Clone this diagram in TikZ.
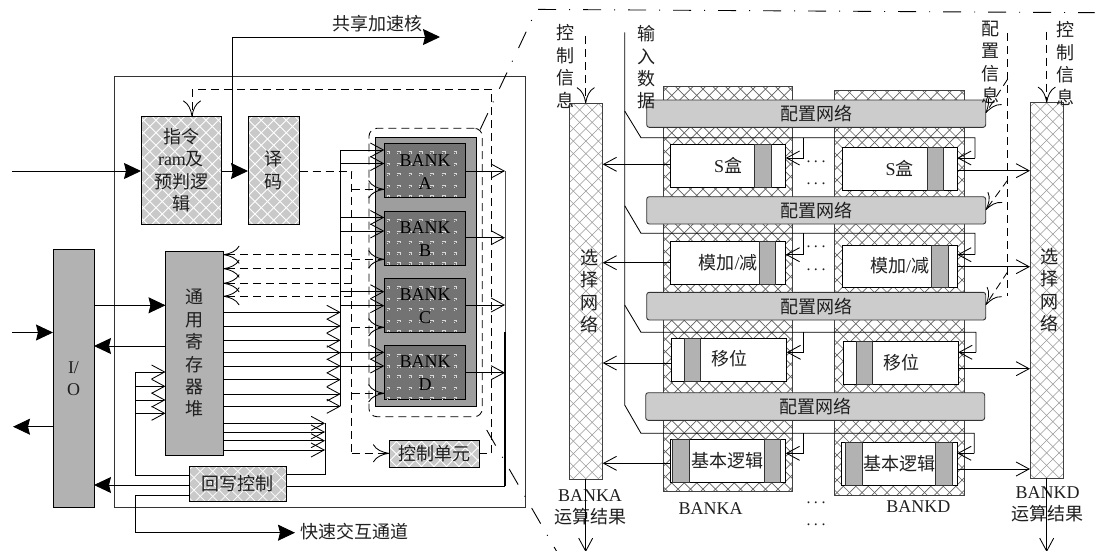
\documentclass[tikz,border=0pt]{standalone}
\usepackage{fontspec}
\setmainfont{Liberation Serif}
\newfontfamily\cjk{Noto Sans CJK SC}
\usetikzlibrary{arrows.meta}
\definecolor{boxgray}{gray}{0.70}
\definecolor{latgray}{gray}{0.79}
\definecolor{confgray}{gray}{0.80}
\definecolor{inkgray}{gray}{0.12}
\newcommand{\lattice}[2]{%
  \foreach \kk in {-43,...,43}{%
    \draw[#1,line width=#2] ([shift={(\kk*12.5-460,-460)}]path picture bounding box.center) -- +(920,920);
    \draw[#1,line width=#2] ([shift={(\kk*12.5-460,460)}]path picture bounding box.center) -- +(920,-920);
  }}
\tikzset{
  ln/.style={line width=0.85pt,draw=black},
  dsh/.style={line width=0.85pt,draw=black,dash pattern=on 8pt off 5pt},
  bigtip/.style={-{Stealth[length=17pt,width=16pt,inset=2pt]}},
  barb/.style={-{Straight Barb[length=13pt,width=14pt,line width=0.85pt]}},
  cbarb/.style={-{Computer Modern Rightarrow[length=16pt,width=18pt,line width=0.85pt]}},
  txt/.style={font=\fontsize{18}{22.4}\selectfont,align=center,text=inkgray},
  zh/.style={font=\fontsize{18}{22.4}\selectfont\cjk,align=center,text=inkgray},
  solidbox/.style={draw=black,line width=0.9pt,fill=boxgray},
  lightlat/.style={draw=black,line width=0.9pt,fill=latgray,path picture={\lattice{white}{0.8pt}}},
  barlat/.style={draw=black!75,line width=0.9pt,fill=white,path picture={\lattice{black!40}{0.6pt}}},
  collat/.style={draw=black!75,line width=0.9pt,fill=white,path picture={\lattice{black!62}{0.7pt}}},
  conf/.style={draw=black!80,line width=0.9pt,fill=confgray,rounded corners=2.5pt},
  unitbox/.style={draw=black,line width=0.9pt,fill=white},
  band/.style={draw=black!80,line width=0.9pt,fill=boxgray},
  bankbase/.style={draw=black,line width=0.9pt,fill=black!38},
  bankin/.style={draw=black,line width=0.9pt,fill=black!55},
  dashround/.style={dsh,rounded corners=8pt},
  dashdot/.style={line width=0.9pt,draw=black,dash pattern=on 18pt off 13pt on 1pt off 13pt},
}
\newcommand{\bx}[7]{%
  \pgfmathsetmacro\bcx{(#2+#4)/2}%
  \pgfmathsetmacro\bcy{(#3+#5)/2}%
  \pgfmathsetmacro\bww{#4-#2}%
  \pgfmathsetmacro\bhh{#5-#3}%
  \node[#6,inner sep=0pt,outer sep=0pt,minimum width=\bww pt,minimum height=\bhh pt,txt] (#1) at (\bcx,\bcy) {#7};}
\newcommand{\bankdots}[1]{%
  \foreach \dx in {388,398.3,410,420.7,431.7,443.3,455}{%
    \foreach \dy in {8.4,20,30,41.7,51.5}{%
      \pgfmathsetmacro\py{#1+\dy}%
      \draw[white!85!black,line width=0.6pt] (\dx-1.5,\py) -- (\dx+1.5,\py) -- (\dx+1.5,\py+2);
      \fill[white!85!black] (\dx-1.5,\py+1.5) rectangle +(1,1);
    }}}
\newcommand{\threedots}{.\kern3.5pt.\kern3.5pt.}
\begin{document}
\begin{tikzpicture}[x=1pt,y=-1pt]
\useasboundingbox (0,0) rectangle (1095,550);
% ---------- left block
\bx{outer}{114.5}{76}{525.5}{507.7}{draw=black!80,line width=1pt}{}
\bx{io}{53}{249.5}{94}{507.7}{solidbox}{I/\\O}
\bx{instr}{141}{116.5}{221}{224}{lightlat}{{\cjk 指令}\\ram{\cjk 及}\\{\cjk 预判逻}\\{\cjk 辑}}
\bx{decode}{248}{116.5}{299.5}{224}{lightlat}{\cjk 译\\\cjk 码}
\bx{reg}{165.5}{251.5}{223.5}{455.3}{solidbox}{\cjk 通\\\cjk 用\\\cjk 寄\\\cjk 存\\\cjk 器\\\cjk 堆}
\bx{wb}{189}{466.7}{286.5}{501}{lightlat}{\cjk 回写控制}
\bx{ctrl}{389}{440.7}{479}{467.3}{lightlat}{\cjk 控制单元}
\bx{group}{369}{128.3}{482.3}{416.7}{dashround}{}
\bx{bankbg}{375}{137.7}{476}{406}{bankbase}{}
\bx{bankA}{384.3}{143.3}{465.7}{197.3}{bankin}{}
\bx{bankB}{384.3}{211}{465.7}{265}{bankin}{}
\bx{bankC}{384.3}{278.3}{465.7}{332.3}{bankin}{}
\bx{bankD}{384.3}{345.7}{465.7}{399.3}{bankin}{}
\bankdots{143.3}\bankdots{211}\bankdots{278.3}\bankdots{345.7}
\node[txt,text=black,inner sep=0pt] (labA) at (425,172) {BANK\\A};
\node[txt,text=black,inner sep=0pt] (labB) at (425,239) {BANK\\B};
\node[txt,text=black,inner sep=0pt] (labC) at (425,306) {BANK\\C};
\node[txt,text=black,inner sep=0pt] (labD) at (425,373) {BANK\\D};
\node[zh,anchor=west,inner sep=0pt] (shared) at (332,23.5) {共享加速核};
\node[zh,anchor=west,inner sep=0pt] (fast) at (300,532) {快速交互通道};
% left free ends and buses
\coordinate (inA) at (12,171);
\coordinate (inB) at (12,332.5);
\coordinate (outB) at (13,426.7);
\coordinate (sharedEnd) at (440,37);
\coordinate (sharedCorner) at (232,37);
\coordinate (rb) at (340.7,150);
\coordinate (db) at (351.7,171);
\coordinate (cb) at (491.7,89.5);
\coordinate (itop) at (192,116.5);
\coordinate (ob) at (505,171);
\coordinate (lb) at (135.5,372);
\coordinate (wb2) at (325,423.3);
% main arrows
\draw[ln,bigtip] (inA) -- (instr.west |- inA);
\draw[ln,bigtip] (instr.east |- inA) -- (decode.west |- inA);
\draw[ln,bigtip] (sharedCorner |- inA) -- (sharedCorner) -- (sharedEnd);
\draw[ln,bigtip] (inB) -- (io.west |- inB);
\draw[ln,bigtip] (io.west |- outB) -- (outB);
\draw[ln,bigtip] (io.east |- 0,305.3) -- (reg.west |- 0,305.3);
\draw[ln,bigtip] (reg.west |- 0,346) -- (io.east |- 0,346);
\draw[ln,bigtip] (wb.west |- 0,485) -- (io.east |- 0,485);
\draw[ln,bigtip] (wb.west |- 0,495) -- (lb |- 0,495) -- (lb |- 0,532.7) -- (295,532.7);
% register side buses
\draw[ln] (lb) -- (lb |- 0,475.3) -- (wb.west |- 0,475.3);
\foreach \yy in {372,386.3,400,413.3}{\draw[ln,barb] (lb |- 0,\yy) -- (reg.west |- 0,\yy);}
\foreach \yy in {312.3,326,340.3,352.7,366,379.7,394,406.3}{\draw[ln,barb] (reg.east |- 0,\yy) -- (rb |- 0,\yy);}
\draw[ln] (rb) -- (rb |- 0,406.3);
\foreach \yy in {150,163.5}{\draw[ln,barb] (rb |- 0,\yy) -- (bankA.west |- 0,\yy);}
\foreach \yy in {217.5,231}{\draw[ln,barb] (rb |- 0,\yy) -- (bankB.west |- 0,\yy);}
\foreach \yy in {291.7,305.7}{\draw[ln,barb] (rb |- 0,\yy) -- (bankC.west |- 0,\yy);}
\foreach \yy in {352.3,366}{\draw[ln,barb] (rb |- 0,\yy) -- (bankD.west |- 0,\yy);}
\foreach \yy in {423.3,432,440.7,450}{\draw[ln,barb] (reg.east |- 0,\yy) -- (wb2 |- 0,\yy);}
\draw[ln] (wb2) -- (wb2 |- 0,474) -- (wb.east |- 0,474);
% dashed control
\draw[dsh] (decode.east |- db) -- (db) -- (db |- 0,453.3);
\draw[dsh,cbarb] (db |- 0,453.3) -- (ctrl.west |- 0,453.3);
\draw[dsh,cbarb] (db |- 0,189.3) -- (bankA.west |- 0,189.3);
\draw[dsh,cbarb] (db |- 0,259.3) -- (bankB.west |- 0,259.3);
\draw[dsh,cbarb] (db |- 0,327.3) -- (bankC.west |- 0,327.3);
\draw[dsh,cbarb] (db |- 0,393.3) -- (bankD.west |- 0,393.3);
\foreach \yy in {254.7,268.7,283.3,296.3}{\draw[dsh,cbarb] (db |- 0,\yy) -- (reg.east |- 0,\yy);}
\draw[dsh] (ctrl.east |- 0,453.3) -- (cb |- 0,453.3) -- (cb);
\draw[dsh,cbarb] (cb) -- (itop |- cb) -- (itop);
% bank outputs
\draw[line width=0.85pt,black!70] (ob) -- (ob |- 0,332);
\draw[line width=1.2pt] (ob |- 0,332) -- (ob |- 0,486);
\draw[line width=1pt] (ob |- 0,486) -- (wb.east |- 0,486);
\draw[ln,barb] (bankA.east |- ob) -- (ob);
\draw[ln,barb] (bankB.east |- 0,237.7) -- (ob |- 0,237.7);
\draw[ln,barb] (bankC.east |- 0,305) -- (ob |- 0,305);
\draw[ln,barb] (bankD.east |- 0,372.7) -- (ob |- 0,372.7);
% zoom guide lines
\coordinate (zu1) at (531.7,20);
\coordinate (zu2) at (479,132);
\coordinate (zl1) at (486.7,430);
\coordinate (zl2) at (557,552);
\coordinate (zt1) at (538,9.4);
\coordinate (zt2) at (1095,12.7);
\draw[line width=0.9pt,dash pattern=on 1pt off 12pt on 18pt off 14pt] (zu1) -- (zu2);
\draw[dashdot] (zl1) -- (zl2);
\draw[dashdot] (zt1) -- (zt2);
% ---------- right block
\bx{colA}{663.3}{86.7}{792.7}{491.7}{collat}{}
\bx{colD}{834.7}{90}{964.3}{495}{collat}{}
\bx{barL}{569}{103.3}{602.7}{479}{barlat}{}
\bx{barR}{1030}{102.7}{1063.3}{478}{barlat}{}
\node[zh,inner sep=0pt] (barLt) at (589.3,291) {选\\择\\网\\络};
\node[zh,inner sep=0pt] (barRt) at (1049,290) {选\\择\\网\\络};
\bx{net1}{646.7}{100}{985.7}{127.3}{conf}{\cjk 配置网络}
\bx{net2}{646.7}{196.7}{985.7}{224}{conf}{\cjk 配置网络}
\bx{net3}{646.7}{292.3}{985.7}{320}{conf}{\cjk 配置网络}
\bx{net4}{645.7}{392.7}{984.7}{420.3}{conf}{\cjk 配置网络}
% units (column A)
\bx{sA}{670.3}{144}{785.7}{187.3}{unitbox}{}
\bx{sAb}{754.7}{144}{771}{187.3}{band}{}
\bx{mA}{670.3}{241.7}{785.7}{284.3}{unitbox}{}
\bx{mAb}{759.3}{241.7}{775.7}{284.3}{band}{}
\bx{yA}{671.3}{338.3}{786.7}{381.3}{unitbox}{}
\bx{yAb}{684.3}{338.3}{700.7}{381.3}{band}{}
\bx{jA}{670}{439}{785.7}{482}{unitbox}{}
\bx{jAb}{672.7}{439}{689}{482}{band}{}
\bx{jAc}{764.3}{439}{780.7}{482}{band}{}
% units (column D)
\bx{sD}{842}{147.3}{957.3}{190.7}{unitbox}{}
\bx{sDb}{927.3}{147.3}{943.7}{190.7}{band}{}
\bx{mD}{842}{245}{957.3}{287.3}{unitbox}{}
\bx{mDb}{931.7}{245}{948.3}{287.3}{band}{}
\bx{yD}{843}{341.7}{958.3}{384.7}{unitbox}{}
\bx{yDb}{856.3}{341.7}{872.7}{384.7}{band}{}
\bx{jD}{841.7}{442.3}{957.3}{485.3}{unitbox}{}
\bx{jDb}{845.7}{442.3}{862}{485.3}{band}{}
\bx{jDc}{935.7}{442.3}{952}{485.3}{band}{}
% unit labels
\node[txt,inner sep=0pt] (tsA) at (sA.center) {S{\cjk 盒}};
\node[txt,inner sep=0pt] (tmA) at (mA.center) {{\cjk 模加}/{\cjk 减}};
\node[txt,inner sep=0pt] (tyA) at (729,359) {\cjk 移位};
\node[txt,inner sep=0pt] (tjA) at (jA.center) {\cjk 基本逻辑};
\node[txt,inner sep=0pt] (tsD) at (899.5,168) {S{\cjk 盒}};
\node[txt,inner sep=0pt] (tmD) at (mD.center) {{\cjk 模加}/{\cjk 减}};
\node[txt,inner sep=0pt] (tyD) at (901,363) {\cjk 移位};
\node[txt,inner sep=0pt] (tjD) at (jD.center) {\cjk 基本逻辑};
% outside labels
\node[zh,inner sep=0pt] (c1) at (565.7,66.5) {控\\制\\信\\息};
\node[zh,inner sep=0pt] (c2) at (646.7,67.5) {输\\入\\数\\据};
\node[zh,inner sep=0pt] (c3) at (990.7,62.5) {配\\置\\信\\息};
\node[zh,inner sep=0pt] (c4) at (1065.7,63.5) {控\\制\\信\\息};
\node[txt,inner sep=0pt] (rA) at (590,507.5) {BANKA\\{\cjk 运算结果}};
\node[txt,inner sep=0pt] (rD) at (1047.5,504.5) {BANKD\\{\cjk 运算结果}};
\node[txt,inner sep=0pt] (nA) at (710.7,508.7) {BANKA};
\node[txt,inner sep=0pt] (nD) at (918.3,506.7) {BANKD};
\foreach \nn/\yy in {d1/164.3,d2/186.7,d3/250,d4/273,d5/505.7,d6/527.7}{
  \node[font=\fontsize{16}{16}\selectfont,inner sep=0pt,text=inkgray] (\nn) at (816,\yy-3) {\threedots};}
% right connectors
\coordinate (inp) at (624.7,32.3);
\coordinate (cfg) at (1007.7,33);
\coordinate (ctlL) at (585.7,36);
\coordinate (ctlR) at (1046.7,31.7);
\coordinate (resL) at (585.7,552);
\coordinate (resR) at (1046.7,552);
\coordinate (lA) at (803.3,137.7);
\draw[dsh,cbarb] (ctlL) -- (ctlL |- barL.north);
\draw[dsh,cbarb] (ctlR) -- (ctlR |- barR.north);
\draw[ln,barb] (ctlL |- barL.south) -- (resL);
\draw[ln,barb] (ctlR |- barR.south) -- (resR);
\draw[ln] (inp) -- (inp |- 0,405) -- (641,433.3) -- (974.3,433.3) -- (974.3,453.3);
\draw[ln,barb] (974.3,453.3) -- (jD.east |- 0,453.3);
\draw[ln,barb] (lA |- 0,433.3) -- (lA |- 0,453.3) -- (jA.east |- 0,453.3);
\draw[ln] (inp |- 0,111) -- (641,137.7) -- (975,137.7) -- (975,158);
\draw[ln,barb] (975,158) -- (sD.east |- 0,158);
\draw[ln,barb] (lA) -- (lA |- 0,158) -- (sA.east |- 0,158);
\draw[ln] (inp |- 0,205.7) -- (641,233.3) -- (975,233.3) -- (975,254.7);
\draw[ln,barb] (975,254.7) -- (mD.east |- 0,254.7);
\draw[ln,barb] (lA |- 0,233.3) -- (lA |- 0,254.7) -- (mA.east |- 0,254.7);
\draw[ln] (inp |- 0,305) -- (641,332.3) -- (976,332.3) -- (976,352.3);
\draw[ln,barb] (976,352.3) -- (yD.east |- 0,352.3);
\draw[ln,barb] (lA |- 0,332.3) -- (lA |- 0,352.3) -- (yA.east |- 0,352.3);
% to the select bars
\draw[ln,barb] (sA.west |- 0,164.3) -- (barL.east |- 0,164.3);
\draw[ln,barb] (mA.west |- 0,262.7) -- (barL.east |- 0,262.7);
\draw[ln,barb] (yA.west |- 0,363) -- (barL.east |- 0,363);
\draw[ln,barb] (jA.west |- 0,463.3) -- (barL.east |- 0,463.3);
\draw[ln,barb] (sD.east |- 0,170.7) -- (barR.west |- 0,170.7);
\draw[ln,barb] (mD.east |- 0,266.7) -- (barR.west |- 0,266.7);
\draw[ln,barb] (yD.east |- 0,368.7) -- (barR.west |- 0,368.7);
\draw[ln,barb] (jD.east |- 0,469) -- (barR.west |- 0,469);
% configuration dashed
\draw[dsh] (cfg) -- (cfg |- 0,296);
\draw[dsh,cbarb] (cfg |- 0,79) -- (net1.east |- 0,113);
\draw[dsh,cbarb] (cfg |- 0,180) -- (net2.east |- 0,210);
\draw[dsh,cbarb] (cfg |- 0,271.7) -- (net3.east |- 0,305);
\end{tikzpicture}
\end{document}
